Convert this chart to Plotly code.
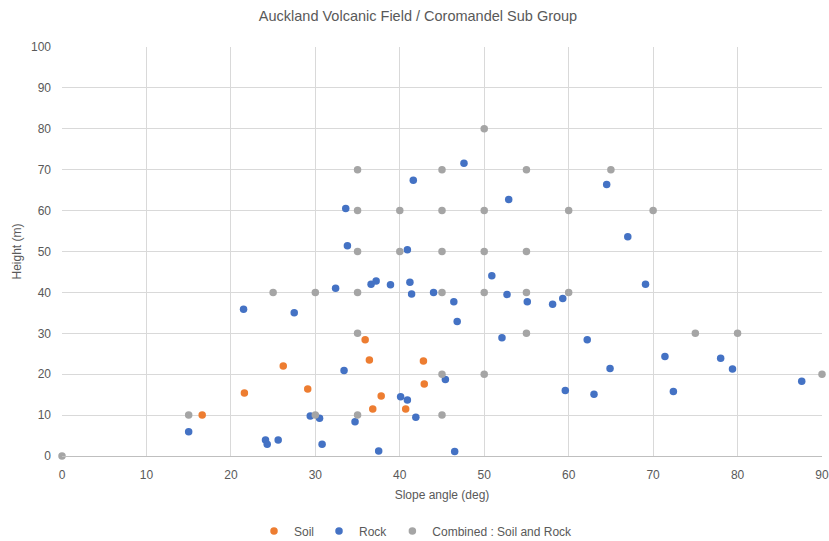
import plotly.graph_objects as go

soil_x = [16.6, 21.6, 26.2, 29.1, 35.9, 36.4, 36.8, 37.8, 40.7, 42.8, 42.9]
soil_y = [10.0, 15.4, 22.0, 16.4, 28.4, 23.5, 11.5, 14.7, 11.5, 23.2, 17.6]

rock_x = [15.0, 21.5, 27.5, 24.1, 24.3, 25.6, 29.4, 30.5, 30.8, 33.4, 34.7, 37.5,
          40.1, 40.9, 41.9, 45.4, 46.5, 46.4, 46.8, 52.1, 55.1, 58.1, 59.3, 62.2,
          59.6, 63.0, 64.9, 71.4, 72.4, 78.0, 79.4, 87.6, 33.6, 33.8, 32.4, 36.6,
          37.2, 38.9, 47.6, 41.6, 52.9, 40.9, 41.2, 41.4, 44.0, 50.9, 52.7, 64.5,
          67.0, 69.1]
rock_y = [5.9, 35.9, 35.0, 3.9, 2.9, 3.9, 9.8, 9.2, 2.9, 20.9, 8.4, 1.2,
          14.5, 13.7, 9.5, 18.7, 1.1, 37.7, 32.9, 28.9, 37.7, 37.1, 38.5, 28.4,
          16.0, 15.1, 21.4, 24.3, 15.8, 23.9, 21.3, 18.3, 60.5, 51.4, 41.0, 42.0,
          42.8, 41.9, 71.6, 67.4, 62.7, 50.4, 42.5, 39.6, 40.0, 44.1, 39.5, 66.4,
          53.6, 42.0]

comb_x = [0, 15, 30, 35, 45, 35, 45, 50, 55, 75, 80, 90, 60, 55, 50, 45, 35, 30, 25,
          40, 45, 50, 55, 35, 40, 35, 45, 50, 60, 70, 35, 45, 55, 65, 50]
comb_y = [0, 10, 10, 10, 10, 30, 20, 20, 30, 30, 30, 20, 40, 40, 40, 40, 40, 40, 40,
          50, 50, 50, 50, 50, 60, 60, 60, 60, 60, 60, 70, 70, 70, 70, 80]

FONT = "Liberation Sans"
TXT = "#595959"

W, H = 829, 541
L, R, T, B = 62, 7, 47, 85

fig = go.Figure()
for name, xs, ys, col in [("Soil", soil_x, soil_y, "#ED7D31"),
                          ("Rock", rock_x, rock_y, "#4472C4"),
                          ("Combined : Soil and Rock", comb_x, comb_y, "#A5A5A5")]:
    fig.add_trace(go.Scatter(x=xs, y=ys, mode="markers", name=name,
                             marker=dict(color=col, size=7.5, line=dict(width=0)),
                             cliponaxis=False))

fig.update_layout(
    width=W, height=H,
    paper_bgcolor="white", plot_bgcolor="white",
    margin=dict(l=L, r=R, t=T, b=B, autoexpand=False),
    title=dict(text="Auckland Volcanic Field / Coromandel Sub Group",
               x=418 / W, xanchor="center", y=1 - 16 / H, yanchor="middle",
               font=dict(family=FONT, size=14.5, color=TXT)),
    font=dict(family=FONT, size=12, color=TXT),
    showlegend=True,
    legend=dict(orientation="h", x=(416 - L) / 760, xanchor="center",
                y=-(531 - 456) / 409, yanchor="middle",
                font=dict(family=FONT, size=12, color=TXT), itemwidth=30,
                tracegroupgap=0),
    xaxis=dict(range=[0, 90], dtick=10, showgrid=True, gridcolor="#D9D9D9",
               zeroline=False, showline=True, linecolor="#BFBFBF", linewidth=1,
               ticks="", ticklabelstandoff=8, tickfont=dict(size=12, color=TXT),
               automargin=False,
               title=dict(text="Slope angle (deg)", standoff=9,
                          font=dict(size=12, color=TXT))),
    yaxis=dict(range=[0, 100], dtick=10, showgrid=True, gridcolor="#D9D9D9",
               zeroline=False, showline=False, ticks="", automargin=False,
               ticklabelstandoff=10,
               tickfont=dict(size=12, color=TXT),
               title=dict(text="Height (m)", standoff=6,
                          font=dict(size=12, color=TXT))),
)

fig.write_html("out.html",
               config={"displayModeBar": False},
               post_script="document.body.style.margin='0';"
                           "document.body.style.overflow='hidden';")
